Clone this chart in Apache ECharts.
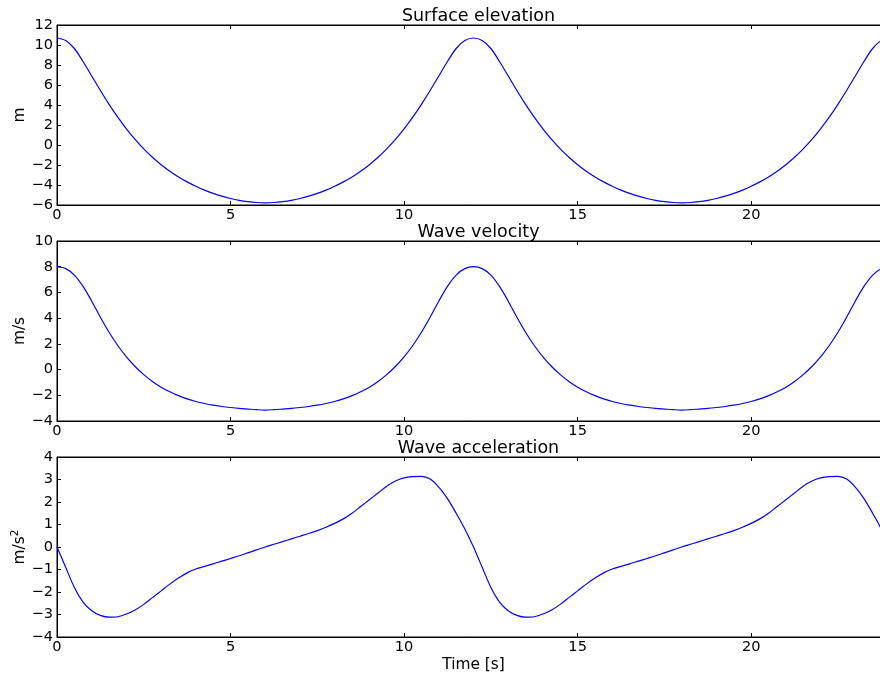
<!DOCTYPE html>
<html>
<head>
<meta charset="utf-8">
<script src="https://cdn.jsdelivr.net/npm/echarts@6/dist/echarts.min.js"></script>
<style>
html,body{margin:0;padding:0;background:#fff;}
#chart{width:880px;height:680px;}
</style>
</head>
<body>
<div id="chart"></div>
<script>
// Time [s]
const time = [0,0.25,0.5,0.75,1,1.25,1.5,1.75,2,2.25,2.5,2.75,3,3.25,3.5,3.75,4,4.25,4.5,4.75,5,5.25,5.5,5.75,
  6,6.25,6.5,6.75,7,7.25,7.5,7.75,8,8.25,8.5,8.75,9,9.25,9.5,9.75,10,10.25,10.5,10.75,11,11.25,11.5,11.75,
  12,12.25,12.5,12.75,13,13.25,13.5,13.75,14,14.25,14.5,14.75,15,15.25,15.5,15.75,16,16.25,16.5,16.75,17,17.25,17.5,17.75,
  18,18.25,18.5,18.75,19,19.25,19.5,19.75,20,20.25,20.5,20.75,21,21.25,21.5,21.75,22,22.25,22.5,22.75,23,23.25,23.5,23.75,24];
// Surface elevation [m]
const elevation = [10.7,10.45,9.65,8.35,6.9,5.45,4.07,2.79,1.62,0.56,-0.39,-1.23,-1.97,-2.62,-3.19,-3.69,-4.13,-4.51,-4.84,-5.12,-5.35,-5.53,-5.66,-5.75,
  -5.78,-5.75,-5.66,-5.53,-5.35,-5.12,-4.84,-4.51,-4.13,-3.69,-3.19,-2.62,-1.97,-1.23,-0.39,0.56,1.62,2.79,4.07,5.45,6.9,8.35,9.65,10.45,
  10.7,10.45,9.65,8.35,6.9,5.45,4.07,2.79,1.62,0.56,-0.39,-1.23,-1.97,-2.62,-3.19,-3.69,-4.13,-4.51,-4.84,-5.12,-5.35,-5.53,-5.66,-5.75,
  -5.78,-5.75,-5.66,-5.53,-5.35,-5.12,-4.84,-4.51,-4.13,-3.69,-3.19,-2.62,-1.97,-1.23,-0.39,0.56,1.62,2.79,4.07,5.45,6.9,8.35,9.65,10.45,10.7];
// Wave velocity [m/s]
const velocity = [8.0,7.85,7.35,6.47,5.32,4.07,2.9,1.87,0.99,0.24,-0.39,-0.92,-1.37,-1.73,-2.03,-2.28,-2.48,-2.64,-2.77,-2.87,-2.95,-3.02,-3.07,-3.12,
  -3.15,-3.12,-3.07,-3.02,-2.95,-2.87,-2.77,-2.64,-2.48,-2.28,-2.03,-1.73,-1.37,-0.92,-0.39,0.24,0.99,1.87,2.9,4.07,5.32,6.47,7.35,7.85,
  8.0,7.85,7.35,6.47,5.32,4.07,2.9,1.87,0.99,0.24,-0.39,-0.92,-1.37,-1.73,-2.03,-2.28,-2.48,-2.64,-2.77,-2.87,-2.95,-3.02,-3.07,-3.12,
  -3.15,-3.12,-3.07,-3.02,-2.95,-2.87,-2.77,-2.64,-2.48,-2.28,-2.03,-1.73,-1.37,-0.92,-0.39,0.24,0.99,1.87,2.9,4.07,5.32,6.47,7.35,7.85,8.0];
// Wave acceleration [m/s^2]
const acceleration = [0,-0.9,-1.8,-2.45,-2.83,-3.04,-3.12,-3.1,-2.98,-2.8,-2.55,-2.25,-1.95,-1.65,-1.38,-1.15,-0.98,-0.86,-0.75,-0.63,-0.51,-0.39,-0.26,-0.13,
  0,0.12,0.24,0.36,0.48,0.6,0.73,0.88,1.05,1.25,1.5,1.8,2.1,2.4,2.7,2.93,3.07,3.13,3.14,3.02,2.66,2.15,1.5,0.8,
  0,-0.9,-1.8,-2.45,-2.83,-3.04,-3.12,-3.1,-2.98,-2.8,-2.55,-2.25,-1.95,-1.65,-1.38,-1.15,-0.98,-0.86,-0.75,-0.63,-0.51,-0.39,-0.26,-0.13,
  0,0.12,0.24,0.36,0.48,0.6,0.73,0.88,1.05,1.25,1.5,1.8,2.1,2.4,2.7,2.93,3.07,3.13,3.14,3.02,2.66,2.15,1.5,0.8,0];

const titles = ['Surface elevation','Wave velocity','Wave acceleration'];
const yNames = ['m','m/s','m/s{sup|2}'];
const yRanges = [[-6,12,2],[-4,10,2],[-4,4,1]];
const xRange = [0,24,5];
const xTickVals = [0,5,10,15,20];

const FONT = 'DejaVu Sans';
const tops = [25,241,457];
const H = 180, L = 57, W = 833;
const fmt = v => String(v).replace('-', '\u2212');

const grids = [], xAxes = [], yAxes = [], series = [], titleOpts = [];
const datasets = [elevation, velocity, acceleration];
for (let i = 0; i < 3; i++) {
  grids.push({left: L, top: tops[i], width: W, height: H, show: true, borderColor: '#000', borderWidth: 1,
    backgroundColor: 'transparent', containLabel: false, outerBoundsMode: 'none'});
  titleOpts.push({text: titles[i], left: L + W/2, top: tops[i] - 23, textAlign: 'center',
    textStyle: {fontFamily: FONT, fontSize: 17.5, fontWeight: 'normal', color: '#000'}});
  const xBase = {type: 'value', gridIndex: i, min: xRange[0], max: xRange[1], interval: xRange[2],
    splitLine: {show: false},
    axisLine: {show: true, onZero: false, lineStyle: {color: '#000', width: 1}},
    axisTick: {show: true, inside: true, length: 4, lineStyle: {color: '#000'}}};
  xAxes.push(Object.assign({}, xBase, {position: 'bottom',
    axisLabel: {show: true, margin: 3, fontFamily: FONT, fontSize: 14.6, color: '#000', showMaxLabel: false,
      formatter: v => xTickVals.indexOf(v) >= 0 ? fmt(v) : ''},
    name: i === 2 ? 'Time [s]' : '', nameLocation: 'middle', nameGap: 20, nameMoveOverlap: false,
    nameTextStyle: {fontFamily: FONT, fontSize: 15.4, color: '#000', verticalAlign: 'top'}}));
  xAxes.push(Object.assign({}, xBase, {position: 'top', axisLabel: {show: false}}));
  yAxes.push({type: 'value', gridIndex: i, min: yRanges[i][0], max: yRanges[i][1], interval: yRanges[i][2],
    position: 'left', splitLine: {show: false},
    axisLine: {show: true, onZero: false, lineStyle: {color: '#000', width: 1}},
    axisTick: {show: true, inside: true, length: 4, lineStyle: {color: '#000'}},
    axisLabel: {margin: 4, fontFamily: FONT, fontSize: 14.6, color: '#000', formatter: fmt},
    name: yNames[i], nameLocation: 'middle', nameGap: 27, nameRotate: 90, nameMoveOverlap: false,
    nameTextStyle: {fontFamily: FONT, fontSize: 15.4, color: '#000', lineHeight: 20,
      rich: {sup: {fontFamily: FONT, fontSize: 10.5, verticalAlign: 'top', lineHeight: 20, color: '#000'}}}});
  series.push({type: 'line', xAxisIndex: 2*i, yAxisIndex: i, showSymbol: false, smooth: 0.3,
    lineStyle: {color: '#0000ff', width: 1.2}, itemStyle: {color: '#0000ff'},
    data: time.map((t, k) => [t, datasets[i][k]]), animation: false});
}

const chart = echarts.init(document.getElementById('chart'), null, {renderer: 'canvas'});
chart.setOption({animation: false, backgroundColor: '#fff', title: titleOpts, grid: grids, xAxis: xAxes, yAxis: yAxes, series: series});
</script>
</body>
</html>
